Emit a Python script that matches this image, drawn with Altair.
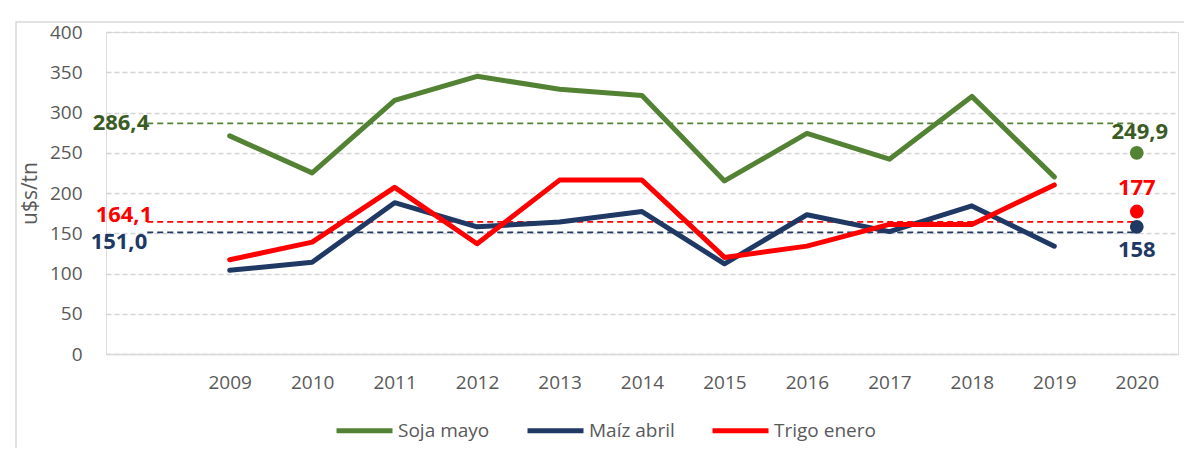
import altair as alt
import pandas as pd

categorias = [" ", "2009", "2010", "2011", "2012", "2013", "2014", "2015",
              "2016", "2017", "2018", "2019", "2020"]
anios = ["2009", "2010", "2011", "2012", "2013", "2014", "2015",
         "2016", "2017", "2018", "2019"]
soja = [271, 225, 315, 345, 329, 321, 215, 274, 242, 320, 220]
maiz = [104, 114, 188, 158, 164, 177, 112, 173, 152, 184, 134]
trigo = [117, 139, 207, 137, 216, 216, 120, 134, 161, 161, 210]

series = ["Soja mayo", "Maíz abril", "Trigo enero"]
colores = ["#548235", "#203864", "#FF0000"]
colores_texto = ["#3A5C24", "#203864", "#FF0000"]
promedios = [286.4, 151.0, 164.1]
promedios_txt = ["286,4", "151,0", "164,1"]
valores_2020 = [249.9, 158, 177]
valores_2020_txt = ["249,9", "158", "177"]

FONT = "Open Sans"
GRIS = "#595959"

rows = []
for s, vals in zip(series, [soja, maiz, trigo]):
    for a, v in zip(anios, vals):
        rows.append({"anio": a, "valor": v, "serie": s})
df_lineas = pd.DataFrame(rows)

df_prom = pd.DataFrame(
    [{"anio": c, "valor": p, "grupo": s, "txt": t}
     for s, p, t in zip(series, promedios, promedios_txt)
     for c in [categorias[0], categorias[-1]]]
)
df_prom_lbl = pd.DataFrame(
    [{"anio": categorias[0], "valor": p, "grupo": s, "txt": t}
     for s, p, t in zip(series, promedios, promedios_txt)]
)
df_2020 = pd.DataFrame(
    [{"anio": "2020", "valor": v, "grupo": s, "txt": t}
     for s, v, t in zip(series, valores_2020, valores_2020_txt)]
)

xscale = alt.Scale(type="point", domain=categorias, padding=0.5)
xaxis = alt.Axis(title=None, ticks=False, labelPadding=19, labelFontSize=19,
                 labelFont=FONT, labelColor=GRIS, domainColor="#D9D9D9",
                 domainWidth=1.5, grid=False, labelAngle=0)
yscale = alt.Scale(domain=[0, 400])
yaxis = alt.Axis(title="u$s/tn", values=list(range(0, 401, 50)), ticks=False,
                 domain=False, labelPadding=24, labelFontSize=19, labelFont=FONT,
                 labelColor=GRIS, gridColor="#D4D4D4", gridDash=[5, 3],
                 gridWidth=1.4, titleFont=FONT, titleFontSize=21,
                 titleFontWeight="normal", titleColor=GRIS, titlePadding=9)

x_enc = alt.X("anio:N", scale=xscale, axis=xaxis)
y_enc = alt.Y("valor:Q", scale=yscale, axis=yaxis)

cscale = alt.Scale(domain=series, range=colores)
tscale = alt.Scale(domain=series, range=colores_texto)

borde = alt.Chart(pd.DataFrame({"a": [0]})).mark_rect(
    fill=None, stroke="#D9D9D9", strokeWidth=1.5
).encode(x=alt.value(-90), x2=alt.value(3000), y=alt.value(-10), y2=alt.value(3000))

prom = alt.Chart(df_prom).mark_line(strokeWidth=1.7, strokeDash=[6, 4]).encode(
    x=x_enc, y=y_enc,
    stroke=alt.Stroke("grupo:N", scale=cscale, legend=None),
    detail="grupo:N",
)

lineas = alt.Chart(df_lineas).mark_line(
    strokeWidth=5, strokeCap="round", strokeJoin="round"
).encode(
    x=x_enc, y=y_enc,
    color=alt.Color("serie:N", scale=cscale, sort=series, legend=alt.Legend(
        title=None, orient="none", direction="horizontal",
        legendX=228, legendY=368, symbolType="stroke", symbolSize=3136,
        symbolStrokeWidth=5, labelFont=FONT, labelFontSize=19, labelColor=GRIS,
        labelOffset=3, columnPadding=27,
    )),
)

puntos = alt.Chart(df_2020).mark_point(filled=True, size=190, opacity=1).encode(
    x=x_enc, y=y_enc,
    fill=alt.Fill("grupo:N", scale=cscale, legend=None),
)

def etiqueta(df, serie, dx, dy, align):
    return alt.Chart(df).transform_filter(alt.datum.grupo == serie).mark_text(
        font=FONT, fontSize=22, fontWeight="bold", align=align,
        baseline="middle", dx=dx, dy=dy
    ).encode(
        x=x_enc, y=y_enc, text="txt:N",
        fill=alt.Fill("grupo:N", scale=tscale, legend=None),
    )

lbl = [
    etiqueta(df_prom_lbl, "Soja mayo", 2, 0, "right"),
    etiqueta(df_prom_lbl, "Trigo enero", 5, -7, "right"),
    etiqueta(df_prom_lbl, "Maíz abril", 0, 10, "right"),
    etiqueta(df_2020, "Soja mayo", 3, -21, "center"),
    etiqueta(df_2020, "Trigo enero", 0, -24, "center"),
    etiqueta(df_2020, "Maíz abril", 0, 23, "center"),
]

chart = alt.layer(borde, prom, lineas, puntos, *lbl).resolve_scale(
    fill="independent", stroke="independent"
).properties(
    width=1072, height=322,
    autosize=alt.AutoSizeParams(type="none"),
    padding={"left": 98, "top": 24, "right": 6, "bottom": 94},
).configure_view(stroke=None).configure(background="white")

chart.save("out.html", embed_options={"renderer": "svg", "actions": False})
